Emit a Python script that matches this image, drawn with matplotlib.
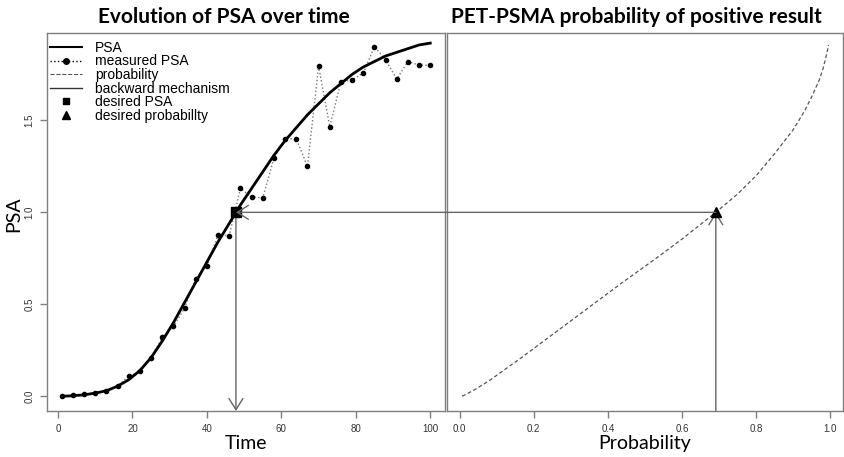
import matplotlib
matplotlib.use('Agg')
import matplotlib.pyplot as plt
from matplotlib.lines import Line2D
from matplotlib.patches import ConnectionPatch

plt.rcParams['font.family'] = ['Liberation Sans', 'DejaVu Sans']

# data
time = [1, 4, 7, 10, 13, 16, 19, 22, 25, 28, 31, 34, 37, 40, 43, 46, 49,
        52, 55, 58, 61, 64, 67, 70, 73, 76, 79, 82, 85, 88, 91, 94, 97, 100]
psa_model = [0.0, 0.003, 0.008, 0.017, 0.03, 0.055, 0.09, 0.14, 0.21, 0.30,
             0.40, 0.51, 0.62, 0.73, 0.84, 0.94, 1.04, 1.13, 1.22, 1.31,
             1.39, 1.46, 1.53, 1.59, 1.65, 1.70, 1.75, 1.79, 1.82, 1.85,
             1.87, 1.89, 1.91, 1.92]
psa_measured = [0.0, 0.005, 0.01, 0.02, 0.03, 0.056, 0.11, 0.135, 0.21, 0.32,
                0.38, 0.48, 0.64, 0.71, 0.877, 0.873, 1.13, 1.083, 1.078, 1.293,
                1.40, 1.40, 1.25, 1.795, 1.466, 1.71, 1.72, 1.757, 1.90, 1.83,
                1.725, 1.82, 1.80, 1.80]

prob = [0.007, 0.04, 0.08, 0.17, 0.26, 0.35, 0.44, 0.53, 0.60, 0.691,
        0.75, 0.80, 0.85, 0.90, 0.93, 0.95, 0.97, 0.98, 0.99, 0.995]
prob_psa = [0.0, 0.035, 0.085, 0.215, 0.35, 0.485, 0.62, 0.75, 0.855, 1.0,
            1.1, 1.2, 1.32, 1.45, 1.55, 1.63, 1.72, 1.78, 1.86, 1.91]

desired_time = 47.8
desired_psa = 1.0
desired_prob = 0.691

frame_col = '#7f7f7f'
arrow_col = '#666666'
ylo, yhi = -0.08, 1.975
arrow = '->,head_length=0.8,head_width=0.5'

fig = plt.figure(figsize=(8.44, 4.57), dpi=100)
ax1 = fig.add_axes([47/844, 1-411/457, 398/844, 378/457])
ax2 = fig.add_axes([447/844, 1-411/457, 396/844, 378/457])

# left panel
ax1.plot(time, psa_measured, ls=':', color='#777777', lw=1)
ax1.plot(time, psa_measured, 'o', color='black', ms=3)
ax1.plot(time, psa_model, color='black', lw=2)

ax1.set_xlim(-2.96, 103.96)
ax1.set_ylim(ylo, yhi)
ax1.set_xticks([0, 20, 40, 60, 80, 100])
ax1.set_yticks([0, 0.5, 1.0, 1.5])
ax1.set_yticklabels(['0.0', '0.5', '1.0', '1.5'], rotation=90, va='center')

ax1.annotate('', xy=(desired_time, ylo), xytext=(desired_time, desired_psa),
             arrowprops=dict(arrowstyle=arrow, color=arrow_col, lw=1.0,
                             shrinkA=0, shrinkB=0))
ax1.plot(desired_time, desired_psa, 's', color='black', ms=7, zorder=5)

handles = [Line2D([], [], color='black', lw=1.5),
           Line2D([], [], color='black', ls=':', lw=1, marker='o', ms=4),
           Line2D([], [], color='#555555', ls='--', lw=0.8),
           Line2D([], [], color='#333333', lw=1),
           Line2D([], [], color='black', ls='none', marker='s', ms=5),
           Line2D([], [], color='black', ls='none', marker='^', ms=6)]
labels = ['PSA', 'measured PSA', 'probability', 'backward mechanism',
          'desired PSA', 'desired probabillty']
ax1.legend(handles, labels, loc='upper left', frameon=False, fontsize=10,
           handlelength=2.3, handletextpad=0.9, labelspacing=-0.03,
           borderpad=0.2, bbox_to_anchor=(-0.016, 1.005))

# right panel
ax2.plot(prob, prob_psa, ls=(0, (3, 2)), color='#555555', lw=0.9)
ax2.set_xlim(-0.034, 1.034)
ax2.set_ylim(ylo, yhi)
ax2.set_xticks([0, 0.2, 0.4, 0.6, 0.8, 1.0])
ax2.set_xticklabels(['0.0', '0.2', '0.4', '0.6', '0.8', '1.0'])
ax2.set_yticks([])

ax2.annotate('', xy=(desired_prob, desired_psa), xytext=(desired_prob, ylo),
             arrowprops=dict(arrowstyle=arrow, color=arrow_col, lw=1.0,
                             shrinkA=0, shrinkB=0))
con = ConnectionPatch(xyA=(desired_prob, desired_psa), coordsA=ax2.transData,
                      xyB=(desired_time, desired_psa), coordsB=ax1.transData,
                      arrowstyle=arrow, color=arrow_col, lw=1.0,
                      shrinkA=0, shrinkB=0, mutation_scale=10)
fig.add_artist(con)
ax2.plot(desired_prob, desired_psa, '^', color='black', ms=7, zorder=5)

for ax in (ax1, ax2):
    for s in ax.spines.values():
        s.set_color(frame_col)
        s.set_linewidth(1.0)
    ax.tick_params(direction='out', length=5, color=frame_col, width=1,
                   labelsize=7, labelcolor='#333333', pad=4)

ax1.text(0.5, -0.087, 'Time', transform=ax1.transAxes, ha='center',
         va='center', fontsize=14, family='Lato')
ax2.text(0.5, -0.087, 'Probability', transform=ax2.transAxes, ha='center',
         va='center', fontsize=14, family='Lato')
ax1.text(-0.083, 0.52, 'PSA', transform=ax1.transAxes, ha='center',
         va='center', fontsize=14, family='Lato', rotation=90)

fig.text(224/844, 1-17/457, 'Evolution of PSA over time', ha='center',
         va='center', fontsize=15, fontweight='bold', family='Lato')
fig.text(636/844, 1-17/457, 'PET-PSMA probability of positive result',
         ha='center', va='center', fontsize=15, fontweight='bold',
         family='Lato')

fig.savefig('out.png', dpi=100)
plt.close(fig)
